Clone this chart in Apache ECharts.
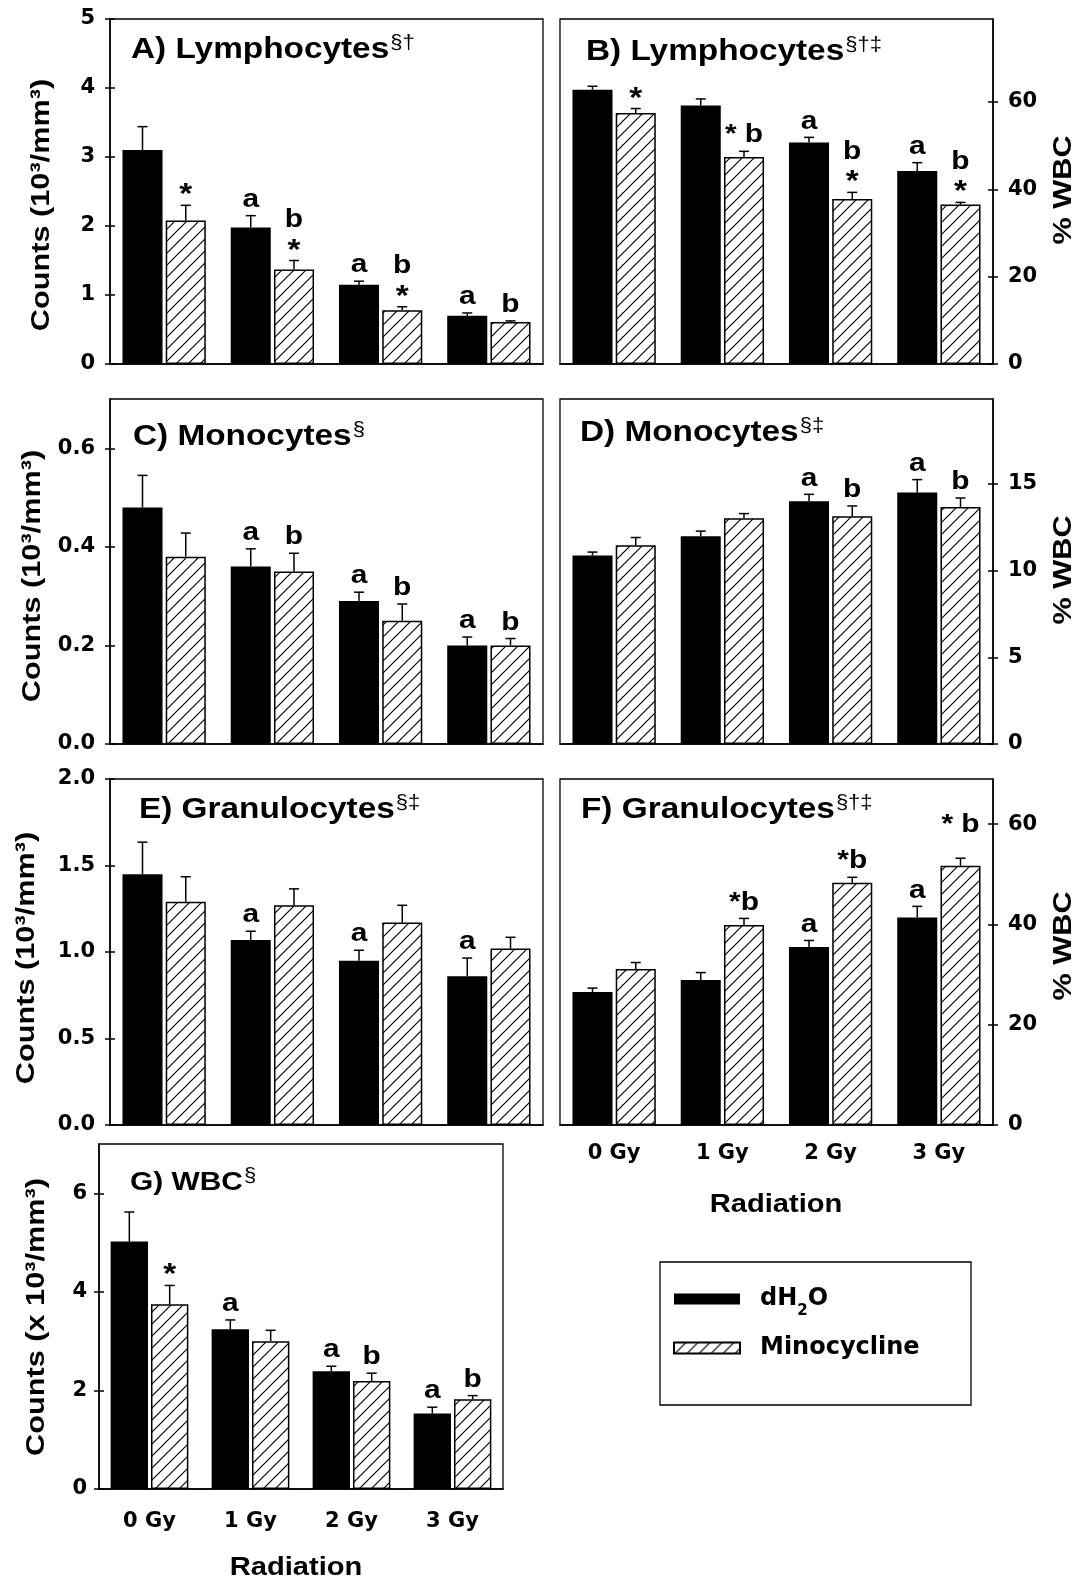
<!DOCTYPE html>
<html>
<head>
<meta charset="utf-8">
<script src="https://cdn.jsdelivr.net/npm/echarts@6/dist/echarts.min.js"></script>
<style>
html,body{margin:0;padding:0;background:#fff;}
#chart{width:1085px;height:1585px;}
</style>
</head>
<body>
<div id="chart"></div>
<script>
// Radiation doses (x categories)
const doses = ['0 Gy', '1 Gy', '2 Gy', '3 Gy'];

// A) Lymphocyte counts (10^3/mm^3)
const lymCountH2O = [3.10, 1.98, 1.15, 0.70];
const lymCountH2OErr = [0.34, 0.17, 0.05, 0.04];
const lymCountMino = [2.08, 1.37, 0.78, 0.61];
const lymCountMinoErr = [0.22, 0.13, 0.05, 0.015];
// B) Lymphocytes as % WBC
const lymPctH2O = [62.8, 59.2, 50.7, 44.2];
const lymPctH2OErr = [0.8, 1.5, 1.2, 1.9];
const lymPctMino = [57.5, 47.4, 37.8, 36.5];
const lymPctMinoErr = [1.0, 1.3, 1.5, 0.5];
// C) Monocyte counts
const monCountH2O = [0.48, 0.36, 0.29, 0.20];
const monCountH2OErr = [0.065, 0.036, 0.018, 0.017];
const monCountMino = [0.38, 0.35, 0.25, 0.20];
const monCountMinoErr = [0.048, 0.037, 0.034, 0.014];
// D) Monocytes as % WBC
const monPctH2O = [10.87, 11.98, 14.0, 14.5];
const monPctH2OErr = [0.2, 0.3, 0.4, 0.75];
const monPctMino = [11.46, 13.02, 13.13, 13.67];
const monPctMinoErr = [0.45, 0.27, 0.6, 0.52];
// E) Granulocyte counts
const graCountH2O = [1.45, 1.07, 0.95, 0.86];
const graCountH2OErr = [0.185, 0.05, 0.06, 0.105];
const graCountMino = [1.29, 1.27, 1.17, 1.02];
const graCountMinoErr = [0.145, 0.095, 0.10, 0.065];
// F) Granulocytes as % WBC
const graPctH2O = [26.5, 28.9, 35.5, 41.4];
const graPctH2OErr = [0.8, 1.5, 1.3, 2.2];
const graPctMino = [31.1, 39.9, 48.3, 51.7];
const graPctMinoErr = [1.3, 1.3, 1.1, 1.5];
// G) Total white blood cells (x 10^3/mm^3)
const wbcH2O = [5.02, 3.24, 2.39, 1.53];
const wbcH2OErr = [0.6, 0.19, 0.1, 0.13];
const wbcMino = [3.75, 3.00, 2.19, 1.82];
const wbcMinoErr = [0.38, 0.22, 0.16, 0.075];

// Significance marks above each bar (rows listed top to bottom; an empty row adds a small lift)
const markA_H2O = ['', 'a', 'a', 'a'];
const markA_Mino = ['*', 'b\n*', 'b\n*', 'b'];
const markB_H2O = ['', '', 'a', 'a'];
const markB_Mino = ['*', '* b', 'b\n*', 'b\n*'];
const markC_H2O = ['', 'a', 'a', 'a'];
const markC_Mino = ['', 'b', 'b', 'b'];
const markD_H2O = ['', '', 'a', 'a'];
const markD_Mino = ['', '', 'b', 'b'];
const markE_H2O = ['', 'a', 'a', 'a'];
const markE_Mino = ['', '', '', ''];
const markF_H2O = ['', '', 'a', 'a'];
const markF_Mino = ['', '*b', '*b', '* b\n'];
const markG_H2O = ['', 'a', 'a', 'a'];
const markG_Mino = ['*', '', 'b', 'b'];

// Tick labels per axis
const ticksA = [0, 1, 2, 3, 4, 5];
const ticksB = [0, 20, 40, 60];
const ticksC = [0, 0.2, 0.4, 0.6];
const ticksD = [0, 5, 10, 15];
const ticksE = [0, 0.5, 1.0, 1.5, 2.0];
const ticksF = [0, 20, 40, 60];
const ticksG = [0, 2, 4, 6];

const FONT = '"Liberation Sans", Arial, Helvetica, sans-serif';
const WIDE = '"DejaVu Sans", "Liberation Sans", sans-serif';
const BAR_FRAC = 0.37;
const GAP_FRAC = 0.08;
const STRETCH = 1.15;

function makeHatch() {
  const s = 12;
  const c = document.createElement('canvas');
  c.width = s; c.height = s;
  const g = c.getContext('2d');
  g.fillStyle = '#fff';
  g.fillRect(0, 0, s, s);
  g.strokeStyle = '#000';
  g.lineWidth = 1.2;
  g.beginPath();
  g.moveTo(-2, s + 2); g.lineTo(s + 2, -2);
  g.moveTo(-2, 2); g.lineTo(2, -2);
  g.moveTo(s - 2, s + 2); g.lineTo(s + 2, s - 2);
  g.stroke();
  return c;
}
const hatchFill = { image: makeHatch(), repeat: 'repeat' };

const panels = [
  { title: 'A) Lymphocytes', sup: '§†', box: [110, 19, 433, 345], side: 'left', max: 5, ticks: ticksA, dec: 0,
    h2o: lymCountH2O, h2oErr: lymCountH2OErr, mino: lymCountMino, minoErr: lymCountMinoErr,
    markH2O: markA_H2O, markMino: markA_Mino, xLabels: false, titleX: 131, titleY: 50, titleSize: 29,
    yMargin: 15, xMargin: 18 },
  { title: 'B) Lymphocytes', sup: '§†‡', box: [560, 19, 433, 345], side: 'right', max: 79, ticks: ticksB, dec: 0,
    h2o: lymPctH2O, h2oErr: lymPctH2OErr, mino: lymPctMino, minoErr: lymPctMinoErr,
    markH2O: markB_H2O, markMino: markB_Mino, xLabels: false, titleX: 586, titleY: 52, titleSize: 29,
    yMargin: 15, xMargin: 18 },
  { title: 'C) Monocytes', sup: '§', box: [110, 399, 433, 345], side: 'left', max: 0.7, ticks: ticksC, dec: 1,
    h2o: monCountH2O, h2oErr: monCountH2OErr, mino: monCountMino, minoErr: monCountMinoErr,
    markH2O: markC_H2O, markMino: markC_Mino, xLabels: false, titleX: 133, titleY: 437, titleSize: 29,
    yMargin: 15, xMargin: 18 },
  { title: 'D) Monocytes', sup: '§‡', box: [560, 399, 433, 345], side: 'right', max: 19.9, ticks: ticksD, dec: 0,
    h2o: monPctH2O, h2oErr: monPctH2OErr, mino: monPctMino, minoErr: monPctMinoErr,
    markH2O: markD_H2O, markMino: markD_Mino, xLabels: false, titleX: 580, titleY: 433, titleSize: 29,
    yMargin: 15, xMargin: 18 },
  { title: 'E) Granulocytes', sup: '§‡', box: [110, 779, 433, 346], side: 'left', max: 2.0, ticks: ticksE, dec: 1,
    h2o: graCountH2O, h2oErr: graCountH2OErr, mino: graCountMino, minoErr: graCountMinoErr,
    markH2O: markE_H2O, markMino: markE_Mino, xLabels: false, titleX: 139, titleY: 810, titleSize: 29,
    yMargin: 15, xMargin: 18 },
  { title: 'F) Granulocytes', sup: '§†‡', box: [560, 779, 433, 346], side: 'right', max: 69, ticks: ticksF, dec: 0,
    h2o: graPctH2O, h2oErr: graPctH2OErr, mino: graPctMino, minoErr: graPctMinoErr,
    markH2O: markF_H2O, markMino: markF_Mino, xLabels: true, titleX: 581, titleY: 810, titleSize: 29,
    yMargin: 15, xMargin: 18 },
  { title: 'G) WBC', sup: '§', box: [99, 1144, 404, 345], side: 'left', max: 7, ticks: ticksG, dec: 0,
    h2o: wbcH2O, h2oErr: wbcH2OErr, mino: wbcMino, minoErr: wbcMinoErr,
    markH2O: markG_H2O, markMino: markG_Mino, xLabels: true, titleX: 130, titleY: 1183, titleSize: 26,
    yMargin: 12, xMargin: 22 }
];

const axisFont = { color: '#000', fontSize: 21, fontWeight: 'bold', fontFamily: WIDE };

function errorSeries(gi, yi, vals, errs, marks, sideSign) {
  return {
    type: 'custom',
    xAxisIndex: gi,
    yAxisIndex: yi,
    z: 5,
    silent: true,
    data: vals.map((v, i) => [i, v, errs[i]]),
    renderItem: function (params, api) {
      const idx = api.value(0);
      const v = api.value(1);
      const e = api.value(2);
      const band = api.size([1, 0])[0];
      const bw = band * BAR_FRAC;
      const dx = sideSign * bw * (1 + GAP_FRAC) / 2;
      const p0 = api.coord([idx, v]);
      const p1 = api.coord([idx, v + e]);
      const x = p0[0] + dx;
      const cap = 5;
      const lineStyle = { stroke: '#000', lineWidth: 1.5 };
      const kids = [
        { type: 'line', shape: { x1: x, y1: p0[1], x2: x, y2: p1[1] }, style: lineStyle },
        { type: 'line', shape: { x1: x - cap, y1: p1[1], x2: x + cap, y2: p1[1] }, style: lineStyle }
      ];
      const mark = marks[params.dataIndex] || '';
      if (mark) {
        const rows = mark.split('\n').reverse();
        let lift = 16;
        rows.forEach((r) => {
          if (!r.trim()) { lift += 17; return; }
          const star = r.trim() === '*';
          kids.push({
            type: 'text',
            x: x,
            y: p1[1] - lift + (star ? 6 : 0),
            scaleX: 1.15,
            style: {
              text: r,
              fill: '#000',
              fontSize: star ? 29 : 26,
              fontWeight: 'bold',
              fontFamily: FONT,
              align: 'center',
              verticalAlign: 'middle'
            }
          });
          lift += 25;
        });
      }
      return { type: 'group', children: kids };
    }
  };
}

const grid = [], xAxis = [], yAxis = [], series = [];
panels.forEach((p, gi) => {
  const [x, y, w, h] = p.box;
  grid.push({ left: x, top: y, width: w, height: h, show: true, borderColor: '#000', borderWidth: 1.3,
    containLabel: false, outerBoundsMode: 'none' });
  xAxis.push({
    type: 'category', gridIndex: gi, data: doses,
    axisLine: { show: true, lineStyle: { color: '#000', width: 1.5 } },
    axisTick: { show: false },
    axisLabel: Object.assign({ show: p.xLabels, margin: p.xMargin }, axisFont),
    splitLine: { show: false }
  });
  const yi = yAxis.length;
  const base = { type: 'value', gridIndex: gi, position: p.side, min: 0, max: p.max, splitLine: { show: false } };
  yAxis.push(Object.assign({}, base, {
    axisLine: { show: true, lineStyle: { color: '#000', width: 1.5 } },
    axisTick: { show: true, inside: false, length: 5, customValues: p.ticks, lineStyle: { color: '#000', width: 1.5 } },
    axisLabel: Object.assign({ show: true, margin: p.yMargin, customValues: p.ticks,
      formatter: (v) => Number(v).toFixed(p.dec) }, axisFont)
  }));
  yAxis.push(Object.assign({}, base, {
    axisLine: { show: false },
    axisTick: { show: true, inside: true, length: 5, customValues: p.ticks, lineStyle: { color: '#000', width: 1.5 } },
    axisLabel: { show: false }
  }));
  series.push({
    name: 'dH2O', type: 'bar', xAxisIndex: gi, yAxisIndex: yi,
    barWidth: (BAR_FRAC * 100) + '%', barGap: (GAP_FRAC * 100) + '%',
    itemStyle: { color: '#000' },
    data: p.h2o, silent: true
  });
  series.push({
    name: 'Minocycline', type: 'bar', xAxisIndex: gi, yAxisIndex: yi,
    barWidth: (BAR_FRAC * 100) + '%', barGap: (GAP_FRAC * 100) + '%',
    itemStyle: { color: hatchFill, borderColor: '#000', borderWidth: 1.5 },
    data: p.mino, silent: true
  });
  series.push(errorSeries(gi, yi, p.h2o, p.h2oErr, p.markH2O, -1));
  series.push(errorSeries(gi, yi, p.mino, p.minoErr, p.markMino, 1));
});

// text width helper for placing superscripts
const measureCtx = document.createElement('canvas').getContext('2d');
function textWidth(str, size, weight) {
  measureCtx.font = weight + ' ' + size + 'px ' + FONT;
  return measureCtx.measureText(str).width;
}

const graphic = [];
panels.forEach((p) => {
  graphic.push({
    type: 'text', x: p.titleX, y: p.titleY, scaleX: STRETCH,
    style: { text: p.title, fill: '#000', fontSize: p.titleSize, fontWeight: 'bold', fontFamily: FONT,
      align: 'left', verticalAlign: 'middle' }
  });
  const tw = textWidth(p.title, p.titleSize, 'bold') * STRETCH;
  graphic.push({
    type: 'text', x: p.titleX + tw + 1, y: p.titleY - 7, scaleX: 1.1,
    style: { text: p.sup, fill: '#000', fontSize: 20, fontWeight: 'normal', fontFamily: FONT,
      align: 'left', verticalAlign: 'middle' }
  });
});

// axis titles
function vText(text, x, y) {
  return {
    type: 'text', x: x, y: y, rotation: Math.PI / 2, scaleX: 1.18,
    style: { text: text, fill: '#000', fontSize: 26, fontWeight: 'bold', fontFamily: FONT,
      align: 'center', verticalAlign: 'middle' }
  };
}
function hText(text, x, y) {
  return {
    type: 'text', x: x, y: y, scaleX: 1.12,
    style: { text: text, fill: '#000', fontSize: 26, fontWeight: 'bold', fontFamily: FONT,
      align: 'center', verticalAlign: 'middle' }
  };
}
graphic.push(vText('Counts (10³/mm³)', 42, 205));
graphic.push(vText('Counts (10³/mm³)', 33, 576));
graphic.push(vText('Counts (10³/mm³)', 27, 958));
graphic.push(vText('Counts (x 10³/mm³)', 37, 1317));
graphic.push(vText('% WBC', 1064, 190));
graphic.push(vText('% WBC', 1064, 570));
graphic.push(vText('% WBC', 1064, 946));
graphic.push(hText('Radiation', 776, 1205));
graphic.push(hText('Radiation', 296, 1568));
// legend frame
graphic.push({
  type: 'rect', shape: { x: 660, y: 1262, width: 311, height: 143 },
  style: { fill: 'none', stroke: '#000', lineWidth: 1.3 }
});

const option = {
  animation: false,
  backgroundColor: '#fff',
  grid: grid,
  xAxis: xAxis,
  yAxis: yAxis,
  series: series,
  graphic: graphic,
  legend: {
    orient: 'vertical', left: 673, top: 1279, padding: 0,
    itemWidth: 66, itemHeight: 11, itemGap: 9, selectedMode: false,
    data: [{ name: 'dH2O', icon: 'rect' }, { name: 'Minocycline', icon: 'rect' }],
    formatter: (n) => (n === 'dH2O' ? 'dH{s|2}O' : n),
    textStyle: {
      color: '#000', fontSize: 24, fontWeight: 'bold', fontFamily: WIDE, lineHeight: 40,
      padding: [0, 0, 0, 15],
      rich: { s: { color: '#000', fontSize: 15, fontWeight: 'bold', fontFamily: WIDE, lineHeight: 15, verticalAlign: 'bottom' } }
    }
  }
};

const chart = echarts.init(document.getElementById('chart'), null, { renderer: 'canvas' });
chart.setOption(option);
</script>
</body>
</html>
